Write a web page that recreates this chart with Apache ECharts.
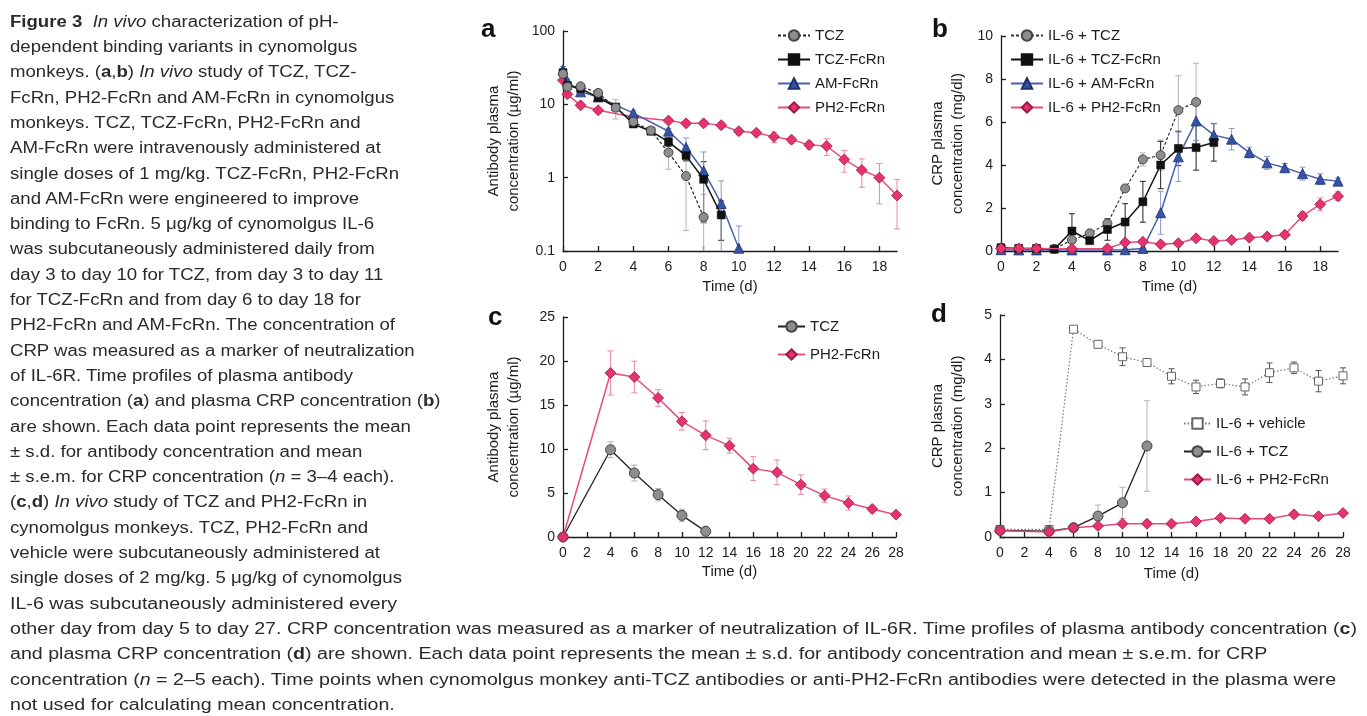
<!DOCTYPE html>
<html>
<head>
<meta charset="utf-8">
<script src="https://cdn.jsdelivr.net/npm/echarts@6/dist/echarts.min.js"></script>
<style>
  html, body { margin: 0; padding: 0; background: #fff; }
  #chart { position: absolute; left: 0; top: 0; width: 1367px; height: 716px; }
  #caption { position: absolute; left: 0; top: 0; font-family: "Liberation Sans", Arial, sans-serif;
             font-size: 16px; color: #2a2a2a; }
  .ln { position: absolute; left: 10px; white-space: nowrap; line-height: 20px; transform-origin: 0 50%; }
</style>
</head>
<body>
<div id="chart"></div>
<div id="caption"></div>
<script>
// ---------- Panel a: plasma antibody concentration (µg/ml), log scale ----------
const daysA_TCZ = [0, 0.25, 1, 2, 3, 4, 5, 6, 7, 8];
const abA_TCZ   = [26, 17.3, 17.6, 14.3, 9.0, 5.8, 4.4, 2.2, 1.05, 0.29];
const sdA_TCZ   = [3, 1.5, 1.5, 1.5, 2.7, 0.6, 0.5, 0.9, 0.86, 0.3];

const daysA_TCZFcRn = [0, 0.25, 1, 2, 3, 4, 5, 6, 7, 8, 9];
const abA_TCZFcRn   = [27, 18, 16.4, 12.4, 9.2, 5.4, 4.3, 3.08, 2.0, 0.95, 0.31];
const sdA_TCZFcRn   = [2, 1.2, 1.2, 1, 1, 0.5, 0.4, 0.4, 0.3, 0.7, 0.17];

const daysA_AM = [0, 0.25, 1, 2, 4, 6, 7, 8, 9, 10];
const abA_AM   = [29.8, 20.6, 14.8, 12.6, 7.6, 4.3, 2.58, 1.24, 0.445, 0.109];
const sdA_AM   = [3, 1.5, 1.2, 1, 0.6, 0.4, 0.9, 1.0, 0.46, 0.11];

const daysA_PH2 = [0, 0.25, 1, 2, 4, 6, 7, 8, 9, 10, 11, 12, 13, 14, 15, 16, 17, 18, 19];
const abA_PH2   = [21.3, 13.7, 9.7, 8.3, 6.7, 6.0, 5.5, 5.5, 5.2, 4.3, 4.1, 3.6, 3.3, 2.8, 2.7, 1.77, 1.27, 1.0, 0.57];
const sdA_PH2   = [1.5, 1, 0.8, 0.6, 0.6, 0.4, 0.4, 0.5, 0.5, 0.45, 0.3, 0.6, 0.35, 0.35, 0.7, 0.58, 0.53, 0.56, 0.37];

// ---------- Panel b: plasma CRP (mg/dl) ----------
const daysB_TCZ = [0, 1, 2, 3, 4, 5, 6, 7, 8, 9, 10, 11];
const crpB_TCZ  = [0.15, 0.1, 0.1, 0.1, 0.51, 0.82, 1.28, 2.91, 4.26, 4.46, 6.55, 6.93];
const seB_TCZ   = [0.03, 0.03, 0.03, 0.03, 0.1, 0.1, 0.15, 0.1, 0.3, 0.7, 1.6, 1.8];

const daysB_TCZFcRn = [0, 1, 2, 3, 4, 5, 6, 7, 8, 9, 10, 11, 12];
const crpB_TCZFcRn  = [0.15, 0.12, 0.12, 0.08, 0.93, 0.48, 1.0, 1.35, 2.29, 4.0, 4.77, 4.81, 5.05];
const seB_TCZFcRn   = [0.03, 0.03, 0.03, 0.03, 0.8, 0.1, 0.5, 0.85, 0.95, 1.1, 0.8, 1.05, 0.87];

const daysB_AM = [0, 1, 2, 4, 6, 7, 8, 9, 10, 11, 12, 13, 14, 15, 16, 17, 18, 19];
const crpB_AM  = [0.06, 0.05, 0.05, 0.05, 0.05, 0.06, 0.12, 1.78, 4.38, 6.05, 5.39, 5.2, 4.58, 4.1, 3.87, 3.6, 3.34, 3.25];
const seB_AM   = [0, 0, 0, 0, 0, 0, 0.03, 1.0, 1.15, 0.9, 0.55, 0.5, 0.25, 0.3, 0.2, 0.3, 0.25, 0.15];

const daysB_PH2 = [0, 1, 2, 4, 6, 7, 8, 9, 10, 11, 12, 13, 14, 15, 16, 17, 18, 19];
const crpB_PH2  = [0.12, 0.12, 0.12, 0.1, 0.12, 0.40, 0.43, 0.31, 0.36, 0.59, 0.46, 0.51, 0.62, 0.67, 0.76, 1.63, 2.17, 2.55];
const seB_PH2   = [0.02, 0.02, 0.02, 0.02, 0.02, 0.05, 0.05, 0.04, 0.05, 0.06, 0.05, 0.05, 0.06, 0.07, 0.06, 0.2, 0.3, 0.2];

// ---------- Panel c: plasma antibody concentration (µg/ml) ----------
const daysC_TCZ = [0, 4, 6, 8, 10, 12];
const abC_TCZ   = [0, 9.92, 7.27, 4.81, 2.46, 0.64];
const sdC_TCZ   = [0, 0.9, 0.9, 0.7, 0.7, 0.6];

const daysC_PH2 = [0, 4, 6, 8, 10, 12, 14, 16, 18, 20, 22, 24, 26, 28];
const abC_PH2   = [0, 18.64, 18.18, 15.8, 13.14, 11.55, 10.38, 7.77, 7.35, 5.95, 4.70, 3.86, 3.18, 2.54];
const sdC_PH2   = [0, 2.5, 1.8, 0.95, 1.0, 1.63, 0.85, 1.36, 1.4, 1.1, 0.75, 0.8, 0.3, 0.2];

// ---------- Panel d: plasma CRP (mg/dl) ----------
const daysD_vehicle = [0, 4, 6, 8, 10, 12, 14, 16, 18, 20, 22, 24, 26, 28];
const crpD_vehicle  = [0.17, 0.17, 4.68, 4.34, 4.06, 3.93, 3.62, 3.38, 3.46, 3.38, 3.70, 3.81, 3.51, 3.63];
const seD_vehicle   = [0.03, 0.03, 0.05, 0.08, 0.2, 0.08, 0.17, 0.15, 0.1, 0.18, 0.22, 0.13, 0.24, 0.18];

const daysD_TCZ = [0, 4, 6, 8, 10, 12];
const crpD_TCZ  = [0.15, 0.13, 0.21, 0.47, 0.77, 2.05];
const seD_TCZ   = [0.03, 0.03, 0.03, 0.25, 0.35, 1.02];

const daysD_PH2 = [0, 4, 6, 8, 10, 12, 14, 16, 18, 20, 22, 24, 26, 28];
const crpD_PH2  = [0.14, 0.11, 0.21, 0.25, 0.30, 0.30, 0.30, 0.35, 0.43, 0.41, 0.41, 0.51, 0.47, 0.54];
const seD_PH2   = [0.02, 0.02, 0.02, 0.02, 0.03, 0.03, 0.03, 0.03, 0.04, 0.03, 0.03, 0.06, 0.04, 0.04];

// ---------- Axis ticks ----------
const ticksX19 = [0, 2, 4, 6, 8, 10, 12, 14, 16, 18];
const ticksX28 = [0, 2, 4, 6, 8, 10, 12, 14, 16, 18, 20, 22, 24, 26, 28];
const ticksLog = [0.1, 1, 10, 100];

// ---------- Caption ----------
const captionLines = [
  '<b>Figure 3</b>&nbsp; <i>In vivo</i> characterization of pH-',
  'dependent binding variants in cynomolgus',
  'monkeys. (<b>a</b>,<b>b</b>) <i>In vivo</i> study of TCZ, TCZ-',
  'FcRn, PH2-FcRn and AM-FcRn in cynomolgus',
  'monkeys. TCZ, TCZ-FcRn, PH2-FcRn and',
  'AM-FcRn were intravenously administered at',
  'single doses of 1 mg/kg. TCZ-FcRn, PH2-FcRn',
  'and AM-FcRn were engineered to improve',
  'binding to FcRn. 5 μg/kg of cynomolgus IL-6',
  'was subcutaneously administered daily from',
  'day 3 to day 10 for TCZ, from day 3 to day 11',
  'for TCZ-FcRn and from day 6 to day 18 for',
  'PH2-FcRn and AM-FcRn. The concentration of',
  'CRP was measured as a marker of neutralization',
  'of IL-6R. Time profiles of plasma antibody',
  'concentration (<b>a</b>) and plasma CRP concentration (<b>b</b>)',
  'are shown. Each data point represents the mean',
  '± s.d. for antibody concentration and mean',
  '± s.e.m. for CRP concentration (<i>n</i> = 3–4 each).',
  '(<b>c</b>,<b>d</b>) <i>In vivo</i> study of TCZ and PH2-FcRn in',
  'cynomolgus monkeys. TCZ, PH2-FcRn and',
  'vehicle were subcutaneously administered at',
  'single doses of 2 mg/kg. 5 μg/kg of cynomolgus',
  'IL-6 was subcutaneously administered every',
  'other day from day 5 to day 27. CRP concentration was measured as a marker of neutralization of IL-6R. Time profiles of plasma antibody concentration (<b>c</b>)',
  'and plasma CRP concentration (<b>d</b>) are shown. Each data point represents the mean ± s.d. for antibody concentration and mean ± s.e.m. for CRP',
  'concentration (<i>n</i> = 2–5 each). Time points when cynomolgus monkey anti-TCZ antibodies or anti-PH2-FcRn antibodies were detected in the plasma were',
  'not used for calculating mean concentration.'
];

(function buildCaption() {
  const cap = document.getElementById('caption');
  const els = captionLines.map((html, i) => {
    const d = document.createElement('div');
    d.className = 'ln';
    d.innerHTML = html;
    d.style.top = (21.7 + i * 25.3 - 10) + 'px';
    cap.appendChild(d);
    return d;
  });
  // column lines share one horizontal scale, the full-width lines another
  const sCol = 431 / els[15].offsetWidth;
  const sWide = 1347 / els[24].offsetWidth;
  els.forEach((el, i) => {
    el.style.transform = 'scaleX(' + (i < 23 ? sCol : sWide) + ')';
  });
})();

// ---------- Chart ----------
const FONT = '"Liberation Sans", Arial, sans-serif';
const INK = '#1c1c1c';
const PINK = '#e6336e', PINK_LINE = '#e94b7e', PINK_BAR = '#ee86a6';
const BLUE = '#3654a6', BLUE_LINE = '#4760ae', BLUE_BAR = '#8a98cc';
const GRAY = '#8e8e8e';

const zip = (xs, ys) => xs.map((x, i) => [x, ys[i]]);

function xAxis(grid, max, ticks, nameGap) {
  return {
    type: 'value', gridIndex: grid, min: 0, max: max,
    name: 'Time (d)', nameLocation: 'middle', nameGap: nameGap, nameMoveOverlap: false,
    nameTextStyle: { fontFamily: FONT, fontSize: 15, color: INK },
    axisLine: { show: true, onZero: false, lineStyle: { color: INK, width: 1.3 } },
    axisTick: { show: true, inside: true, length: 5, customValues: ticks, lineStyle: { color: INK, width: 1.3 } },
    axisLabel: { customValues: ticks, fontFamily: FONT, fontSize: 14, color: INK, margin: 9 },
    splitLine: { show: false }
  };
}

function yAxis(grid, cfg) {
  return Object.assign({
    type: 'value', gridIndex: grid,
    nameLocation: 'middle', nameRotate: 90, nameMoveOverlap: false,
    nameTextStyle: { fontFamily: FONT, fontSize: 15, color: INK, lineHeight: 20 },
    axisLine: { show: true, onZero: false, lineStyle: { color: INK, width: 1.3 } },
    axisTick: { show: true, inside: true, length: 5, lineStyle: { color: INK, width: 1.3 } },
    axisLabel: { fontFamily: FONT, fontSize: 14, color: INK, margin: 8 },
    splitLine: { show: false }
  }, cfg);
}

function lineSeries(name, grid, days, vals, sym, lineStyle, z) {
  return {
    name: name, type: 'line', xAxisIndex: grid, yAxisIndex: grid,
    data: zip(days, vals), symbol: sym.symbol, symbolSize: sym.size,
    itemStyle: { color: sym.fill, borderColor: sym.border, borderWidth: sym.bw || 1 },
    lineStyle: lineStyle, z: z || 3, silent: true, clip: false
  };
}

function errorSeries(grid, days, vals, errs, color, floor) {
  const data = days.map((d, i) => [d, vals[i] - errs[i], vals[i] + errs[i]]);
  return {
    type: 'custom', xAxisIndex: grid, yAxisIndex: grid, data: data, z: 2, silent: true,
    renderItem: function (params, api) {
      const x = api.value(0);
      let lo = api.value(1);
      const hi = api.value(2);
      if (hi - lo <= 0) return null;
      let lowCap = true;
      if (floor != null && lo < floor) { lo = floor; lowCap = false; }
      const p1 = api.coord([x, lo]);
      const p2 = api.coord([x, hi]);
      const w = 3;
      const st = { stroke: color, lineWidth: 1 };
      const kids = [
        { type: 'line', shape: { x1: p1[0], y1: p1[1], x2: p2[0], y2: p2[1] }, style: st },
        { type: 'line', shape: { x1: p2[0] - w, y1: p2[1], x2: p2[0] + w, y2: p2[1] }, style: st }
      ];
      if (lowCap) kids.push({ type: 'line', shape: { x1: p1[0] - w, y1: p1[1], x2: p1[0] + w, y2: p1[1] }, style: st });
      return { type: 'group', children: kids };
    }
  };
}

const symGray   = { symbol: 'circle', size: 9, fill: GRAY, border: '#444', bw: 1 };
const symGrayC  = { symbol: 'circle', size: 10, fill: GRAY, border: '#444', bw: 1 };
const symBlack  = { symbol: 'rect', size: 8, fill: '#111', border: '#111', bw: 0.5 };
const symBlue   = { symbol: 'triangle', size: 10, fill: BLUE, border: '#1e2f70', bw: 0.8 };
const symPink   = { symbol: 'diamond', size: 11, fill: PINK, border: '#9a1a44', bw: 0.8 };
const symWhite  = { symbol: 'rect', size: 8, fill: '#fff', border: '#666', bw: 1 };

const solid = (c, w) => ({ color: c, width: w || 1.4, type: 'solid' });

function legend(left, top, itemWidth, gap, names) {
  return {
    left: left, top: top, orient: 'vertical', padding: 0, itemWidth: itemWidth, itemHeight: 13,
    itemGap: gap, selectedMode: false, data: names,
    formatter: n => n.split('|')[1],
    textStyle: { fontFamily: FONT, fontSize: 15, color: INK, lineHeight: 14 }
  };
}

const panelLetter = (t, x, y) => ({
  type: 'text', left: x, top: y, silent: true,
  style: { text: t, font: 'bold 26px ' + FONT, fill: '#111' }
});

const option = {
  animation: false,
  backgroundColor: '#fff',
  grid: [
    { left: 563, top: 31, width: 334, height: 220, outerBoundsMode: 'none' },
    { left: 1001, top: 36, width: 337, height: 215, outerBoundsMode: 'none' },
    { left: 563, top: 317, width: 333, height: 220, outerBoundsMode: 'none' },
    { left: 1000, top: 315, width: 343, height: 222, outerBoundsMode: 'none' }
  ],
  xAxis: [
    xAxis(0, 19, ticksX19, 28),
    xAxis(1, 19, ticksX19, 28),
    xAxis(2, 28, ticksX28, 27),
    xAxis(3, 28, ticksX28, 29)
  ],
  yAxis: [
    yAxis(0, {
      type: 'log', logBase: 10, min: 0.1, max: 100,
      name: 'Antibody plasma\nconcentration (µg/ml)', nameGap: 39,
      axisTick: { show: true, inside: true, length: 5, customValues: ticksLog, lineStyle: { color: INK, width: 1.3 } },
      axisLabel: { customValues: ticksLog, fontFamily: FONT, fontSize: 14, color: INK, margin: 8,
                   formatter: v => String(+v.toPrecision(3)) }
    }),
    yAxis(1, { min: 0, max: 10, interval: 2, name: 'CRP plasma\nconcentration (mg/dl)', nameGap: 33 }),
    yAxis(2, { min: 0, max: 25, interval: 5, name: 'Antibody plasma\nconcentration (µg/ml)', nameGap: 39 }),
    yAxis(3, { min: 0, max: 5, interval: 1, name: 'CRP plasma\nconcentration (mg/dl)', nameGap: 32 })
  ],
  legend: [
    legend(777, 28, 32, 9, ['a|TCZ', 'a|TCZ-FcRn', 'a|AM-FcRn', 'a|PH2-FcRn']),
    legend(1010, 28, 32, 9, ['b|IL-6 + TCZ', 'b|IL-6 + TCZ-FcRn', 'b|IL-6 + AM-FcRn', 'b|IL-6 + PH2-FcRn']),
    legend(777, 319, 27, 13, ['c|TCZ', 'c|PH2-FcRn']),
    legend(1183, 416, 27, 13, ['d|IL-6 + vehicle', 'd|IL-6 + TCZ', 'd|IL-6 + PH2-FcRn'])
  ],
  graphic: [
    panelLetter('a', 481, 17),
    panelLetter('b', 932, 17),
    panelLetter('c', 488, 305),
    panelLetter('d', 931, 302)
  ],
  series: [
    // panel a
    errorSeries(0, daysA_TCZ, abA_TCZ, sdA_TCZ, '#bdb0b0', 0.1),
    errorSeries(0, daysA_TCZFcRn, abA_TCZFcRn, sdA_TCZFcRn, '#222', 0.1),
    errorSeries(0, daysA_AM, abA_AM, sdA_AM, BLUE_BAR, 0.1),
    errorSeries(0, daysA_PH2, abA_PH2, sdA_PH2, PINK_BAR, 0.1),
    lineSeries('a|PH2-FcRn', 0, daysA_PH2, abA_PH2, symPink, solid(PINK_LINE, 1.5), 3),
    lineSeries('a|AM-FcRn', 0, daysA_AM, abA_AM, symBlue, solid(BLUE_LINE, 1.5), 4),
    lineSeries('a|TCZ-FcRn', 0, daysA_TCZFcRn, abA_TCZFcRn, symBlack, solid('#111', 1.5), 5),
    lineSeries('a|TCZ', 0, daysA_TCZ, abA_TCZ, symGray, { color: '#222', width: 1.2, type: [3, 2] }, 6),
    // panel b
    errorSeries(1, daysB_TCZ, crpB_TCZ, seB_TCZ, '#bdb0b0'),
    errorSeries(1, daysB_TCZFcRn, crpB_TCZFcRn, seB_TCZFcRn, '#222'),
    errorSeries(1, daysB_AM, crpB_AM, seB_AM, BLUE_BAR),
    errorSeries(1, daysB_PH2, crpB_PH2, seB_PH2, PINK_BAR),
    lineSeries('b|IL-6 + AM-FcRn', 1, daysB_AM, crpB_AM, symBlue, solid(BLUE_LINE, 1.5), 3),
    lineSeries('b|IL-6 + TCZ', 1, daysB_TCZ, crpB_TCZ, symGray, { color: '#333', width: 1.2, type: [3, 2] }, 4),
    lineSeries('b|IL-6 + TCZ-FcRn', 1, daysB_TCZFcRn, crpB_TCZFcRn, symBlack, solid('#111', 1.5), 5),
    lineSeries('b|IL-6 + PH2-FcRn', 1, daysB_PH2, crpB_PH2, symPink, solid(PINK_LINE, 1.5), 6),
    // panel c
    errorSeries(2, daysC_TCZ, abC_TCZ, sdC_TCZ, '#b8b0b0'),
    errorSeries(2, daysC_PH2, abC_PH2, sdC_PH2, PINK_BAR),
    lineSeries('c|TCZ', 2, daysC_TCZ, abC_TCZ, symGrayC, solid('#222', 1.3), 4),
    lineSeries('c|PH2-FcRn', 2, daysC_PH2, abC_PH2, symPink, solid(PINK_LINE, 1.5), 5),
    // panel d
    errorSeries(3, daysD_vehicle, crpD_vehicle, seD_vehicle, '#555'),
    errorSeries(3, daysD_TCZ, crpD_TCZ, seD_TCZ, '#b8b0b0'),
    errorSeries(3, daysD_PH2, crpD_PH2, seD_PH2, PINK_BAR),
    lineSeries('d|IL-6 + vehicle', 3, daysD_vehicle, crpD_vehicle, symWhite, { color: '#777', width: 1.2, type: [1.5, 2] }, 4),
    lineSeries('d|IL-6 + TCZ', 3, daysD_TCZ, crpD_TCZ, symGrayC, solid('#222', 1.3), 5),
    lineSeries('d|IL-6 + PH2-FcRn', 3, daysD_PH2, crpD_PH2, symPink, solid(PINK_LINE, 1.5), 6)
  ]
};

const chart = echarts.init(document.getElementById('chart'), null, { renderer: 'canvas' });
chart.setOption(option);
</script>
</body>
</html>
